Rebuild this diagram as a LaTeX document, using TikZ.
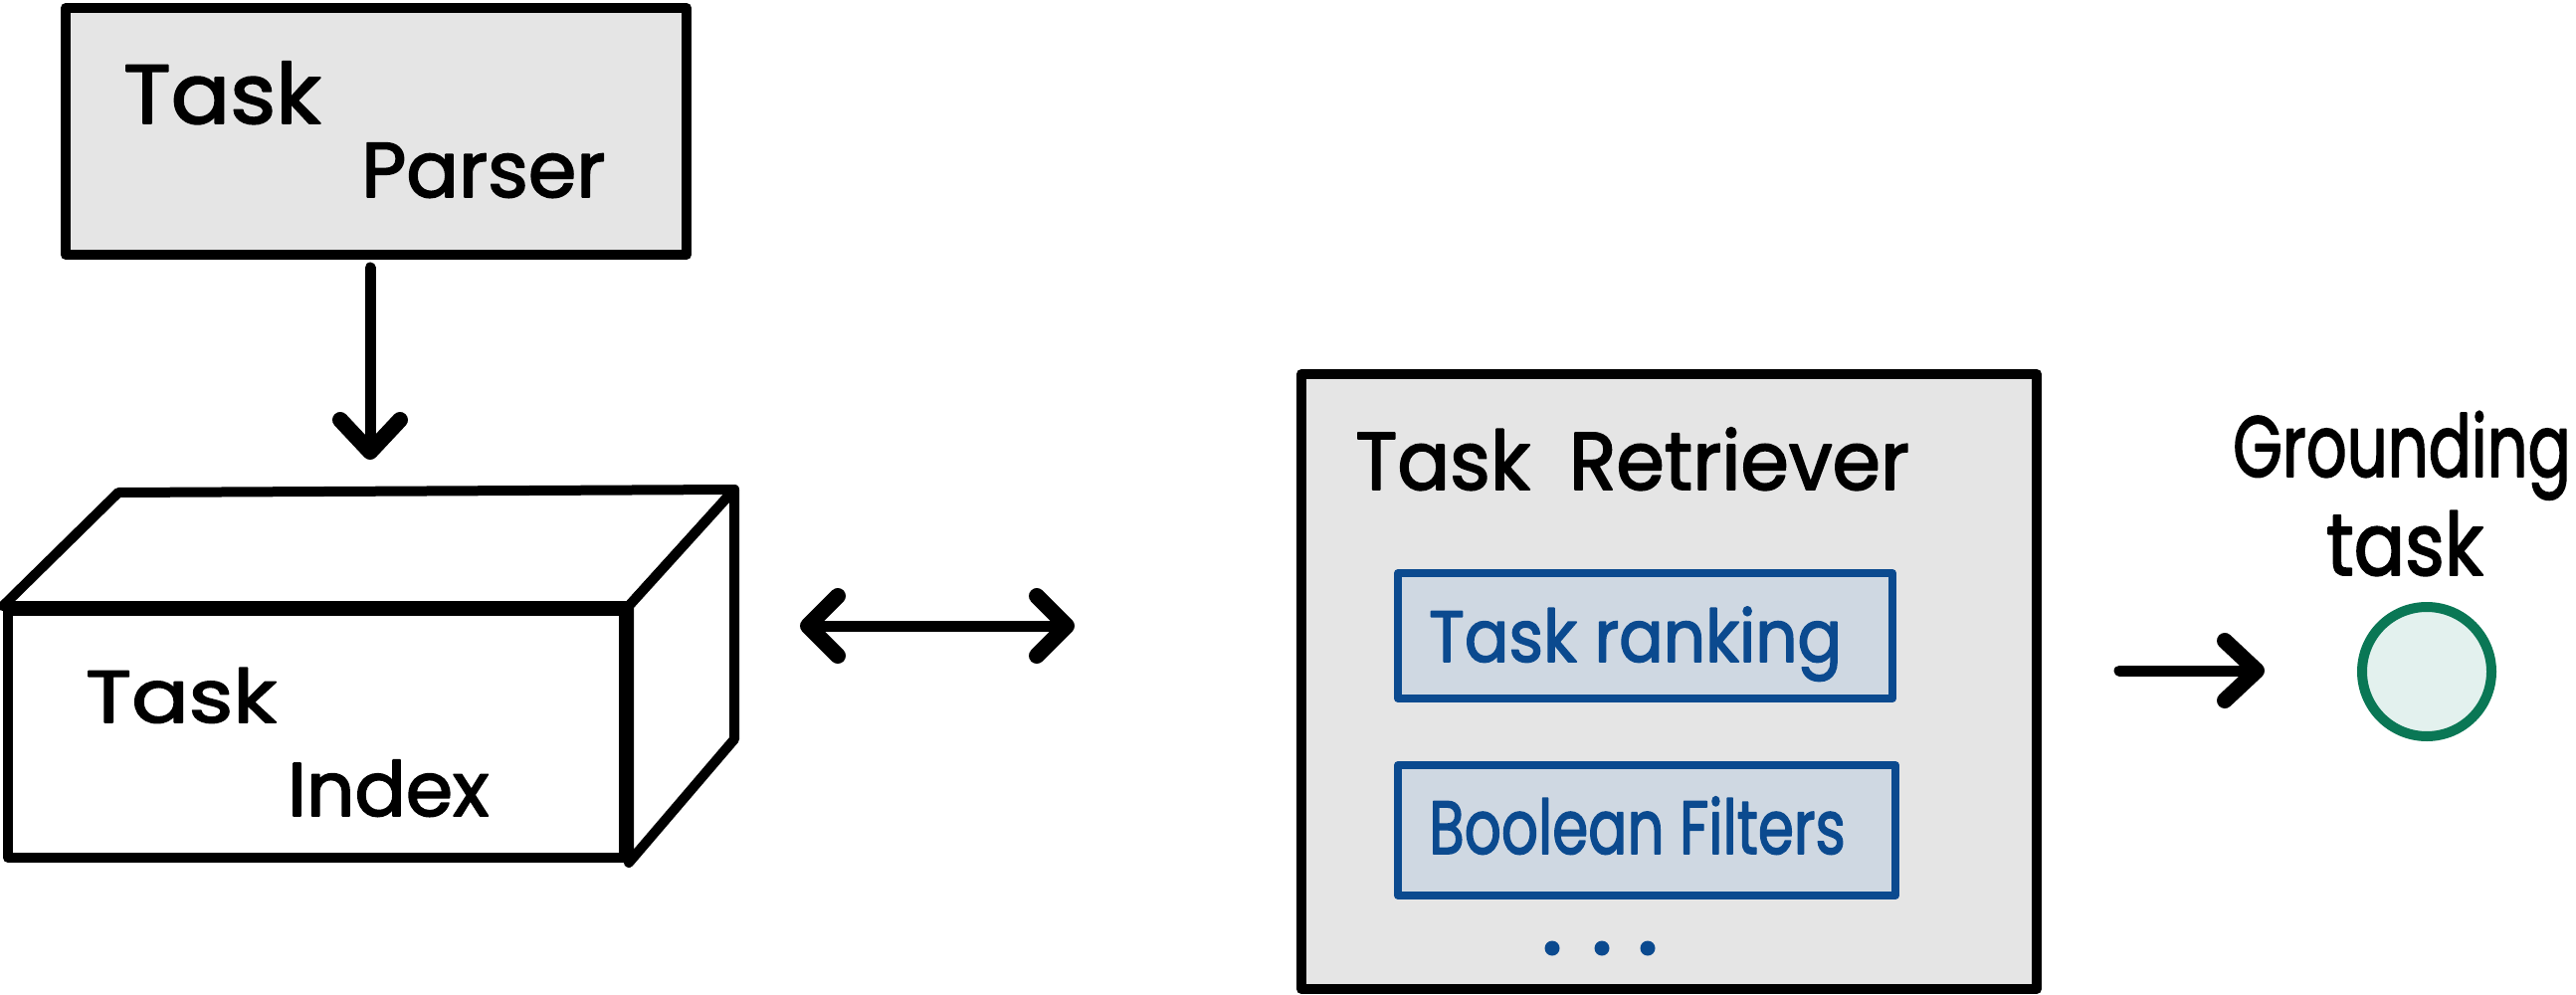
\documentclass[tikz,border=0pt]{standalone}
\usepackage{fontspec}
\setmainfont{Poppins}[FakeBold=2.2]
\usetikzlibrary{arrows.meta}
\definecolor{boxgray}{HTML}{E5E5E5}
\definecolor{dblue}{HTML}{0B4A8F}
\definecolor{lblue}{HTML}{CFD8E2}
\definecolor{dgreen}{HTML}{0A7755}
\definecolor{lgreen}{HTML}{E3F1EE}
\newcommand{\hwtext}[3]{\scalebox{#1}[#2]{#3}}
\begin{document}
\begin{tikzpicture}[x=1pt,y=-1pt,line cap=round,line join=round,
  blk/.style={draw=black,line width=10pt},
  graybox/.style={blk,fill=boxgray,inner sep=0pt},
  bluebox/.style={draw=dblue,fill=lblue,line width=8pt,inner sep=0pt},
  lbl/.style={inner sep=0pt,anchor=base west,font=\fontsize{#1}{#1}\selectfont},
  tip/.style={Straight Barb[length=32pt,width=60pt,line width=16pt,line cap=round,line join=round]},
  arr/.style={line width=11pt,-{Straight Barb[length=32pt,width=60pt,line width=16pt,line cap=round,line join=round]}},
  darr/.style={line width=11pt,{Straight Barb[length=30pt,width=60pt,line width=16pt,line cap=round,line join=round]}-{Straight Barb[length=30pt,width=60pt,line width=16pt,line cap=round,line join=round]}}
]
\useasboundingbox (0,0) rectangle (2589,1000);

% Task Parser
\node[graybox,minimum width=624pt,minimum height=248pt] (parser) at (378,132) {};
\node[lbl=80] (tp1) at (124,124) {\hwtext{1.1}{1.05}{Task}};
\node[lbl=78] (tp2) at (363,198) {\hwtext{1.0}{1.0}{Parser}};

% Task Index (3D box)
\node[blk,fill=white,minimum width=619pt,minimum height=248pt,inner sep=0pt] (index) at (317.5,738) {};
\coordinate (tb) at (119,495);
\coordinate (tc) at (738,492);
\coordinate (rb) at (738,743);
\draw[blk,fill=white] (index.north west) -- (tb) -- (tc) -- (index.north east) -- cycle;
\draw[blk,fill=white] (index.north east) -- (tc) -- (rb) -- (index.south east) -- cycle;
\node[lbl=74] (ti1) at (86,726) {\hwtext{1.15}{1.0}{Task}};
\node[lbl=76] (ti2) at (289,820) {\hwtext{1.0}{1.0}{Index}};

% arrow parser -> index
\coordinate (idxtop) at (372,462);
\draw[arr] ([yshift=-8pt]parser.south -| idxtop) -- (idxtop);

% double arrow
\coordinate (da1) at (804,629);
\coordinate (da2) at (1080,629);
\draw[darr] (da1) -- (da2);

% Task Retriever
\node[graybox,minimum width=739pt,minimum height=618pt] (retr) at (1677.5,685) {};
\node[lbl=78] (trl) at (1362,492) {\hwtext{1.0}{1.05}{Task\hspace{0.5em}Retriever}};
\node[bluebox,minimum width=497pt,minimum height=126pt] (rank) at (1653.5,639) {};
\node[lbl=66,text=dblue] (rankl) at (1436,665) {\hwtext{1.0}{1.1}{Task ranking}};
\node[bluebox,minimum width=500pt,minimum height=131pt] (bool) at (1655,834.5) {};
\node[lbl=58,text=dblue] (booll) at (1436,858) {\hwtext{1.0}{1.3}{Boolean Filters}};
\fill[dblue] (1560,953) circle (7.5pt) (1610,953) circle (7.5pt) (1656,953) circle (7.5pt);

% output arrow and grounding task
\coordinate (oa1) at (2130,674);
\coordinate (oa2) at (2276,674);
\draw[arr] (oa1) -- (oa2);
\node[circle,draw=dgreen,fill=lgreen,line width=10pt,minimum size=130pt,inner sep=0pt] (gt) at (2439,675) {};
\node[inner sep=0pt,anchor=base,font=\fontsize{64}{64}\selectfont] (gl1) at (2414,479) {\hwtext{1.0}{1.35}{Grounding}};
\node[inner sep=0pt,anchor=base,font=\fontsize{76}{76}\selectfont] (gl2) at (2417,578) {\hwtext{1.0}{1.15}{task}};
\end{tikzpicture}
\end{document}
